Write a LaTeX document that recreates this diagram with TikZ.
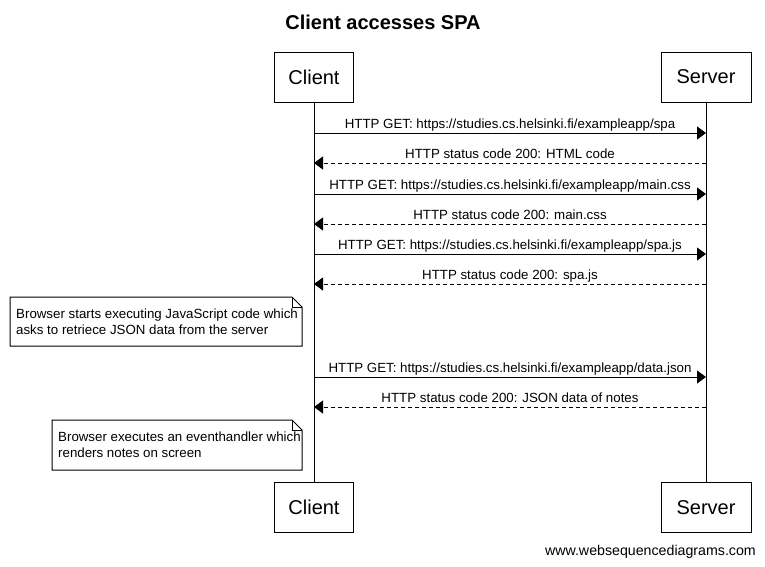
\documentclass[tikz,border=0pt]{standalone}
\usepackage{fontspec}
\setmainfont{Liberation Sans}
\usetikzlibrary{arrows.meta}
\tikzset{
  actor/.style={draw,line width=1pt,minimum height=50pt,inner ysep=0pt,
    font=\fontsize{20}{24}\selectfont},
  msg/.style={line width=1pt,-{Triangle[length=9pt,width=13pt]}},
  reply/.style={msg,dash pattern=on 4pt off 3pt},
  msglabel/.style={above=1.5pt,inner sep=0pt,text height=9.5pt,text depth=2.5pt,
    font=\fontsize{13.3}{16}\selectfont},
  notetext/.style={anchor=west,align=left,inner sep=0pt,font=\fontsize{13.3}{16}\selectfont}
}
\begin{document}
\begin{tikzpicture}[x=1pt,y=-1pt]
\useasboundingbox (0,0) rectangle (765,566);
\node[anchor=base,font=\bfseries\fontsize{20}{24}\selectfont] (title) at (383,29) {Client accesses SPA};
% participants
\node[actor,minimum width=79pt] (client) at (314,77) {Client};
\node[actor,minimum width=90pt] (server) at (706,77) {Server};
\node[actor,minimum width=79pt] (clientB) at (314,507.5) {Client};
\node[actor,minimum width=90pt] (serverB) at (706,507.5) {Server};
\draw[line width=1pt] (client.south)--(clientB.north);
\draw[line width=1pt] (server.south)--(serverB.north);
% requests
\foreach \i/\y/\txt in {1/133/{HTTP GET: https://studies.cs.helsinki.fi/exampleapp/spa},
    3/194/{HTTP GET: https://studies.cs.helsinki.fi/exampleapp/main.css},
    5/254/{HTTP GET: https://studies.cs.helsinki.fi/exampleapp/spa.js},
    7/377/{HTTP GET: https://studies.cs.helsinki.fi/exampleapp/data.json}}
{
    \coordinate (c\i) at (314,\y);
    \coordinate (s\i) at (706,\y);
    \draw[msg] (c\i)--node[msglabel]{\txt}(s\i);
}
% responses
\foreach \i/\y/\txt in {2/163/{HTTP status code 200: HTML code},
    4/224/{HTTP status code 200: main.css},
    6/284/{HTTP status code 200: spa.js},
    8/407/{HTTP status code 200: JSON data of notes}}
{
    \coordinate (c\i) at (314,\y);
    \coordinate (s\i) at (706,\y);
    \draw[reply] (s\i)--node[msglabel]{\txt}(c\i);
}
% notes
\draw[line width=1pt,fill=white] (10,297)--(292,297)--(302,307)--(302,346)--(10,346)--cycle;
\draw[line width=1pt] (292,297)--(292,307)--(302,307);
\node[notetext] (note1) at (16,322) {Browser starts executing JavaScript code which\\asks to retriece JSON data from the server};
\draw[line width=1pt,fill=white] (52,420)--(292,420)--(302,430)--(302,470)--(52,470)--cycle;
\draw[line width=1pt] (292,420)--(292,430)--(302,430);
\node[notetext] (note2) at (58,445) {Browser executes an eventhandler which\\renders notes on screen};
\node[anchor=base east,inner sep=0pt,font=\fontsize{14.2}{16}\selectfont] (footer) at (756,555) {www.websequencediagrams.com};
\end{tikzpicture}
\end{document}
